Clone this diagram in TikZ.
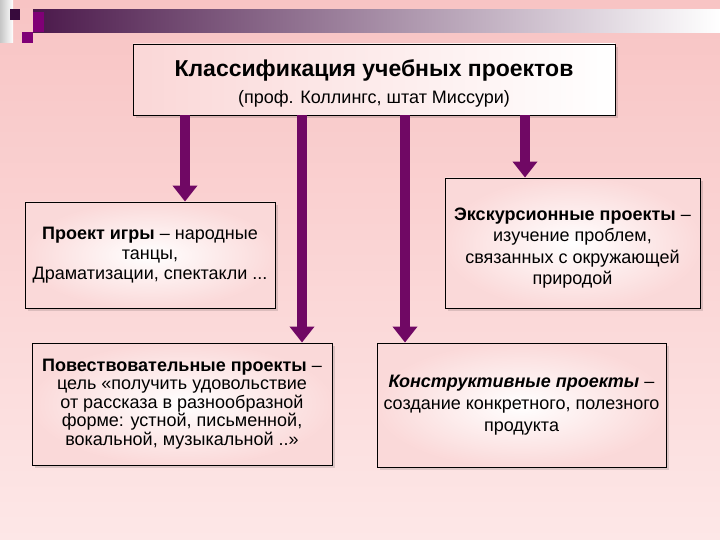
\documentclass[tikz,border=0pt]{standalone}
\usepackage{fontspec}
\setmainfont{Liberation Sans}
\usepackage{xcolor}
\usetikzlibrary{arrows.meta,shadows}

\definecolor{bgtop}{RGB}{248,196,196}
\definecolor{bgbot}{RGB}{253,231,231}
\definecolor{boxpink}{RGB}{249,205,205}
\definecolor{arrowpurple}{RGB}{112,8,100}
\definecolor{barpurple}{RGB}{75,25,75}
\definecolor{sqdark}{RGB}{55,10,60}
\definecolor{sqpurple}{RGB}{128,0,118}

\begin{document}
\begin{tikzpicture}[
        x=1pt, y=-1pt,
        card/.style={draw=black, line width=0.9pt, align=center, inner sep=4pt,
                     inner color=white, outer color=boxpink!75,
                     drop shadow={shadow xshift=3pt, shadow yshift=-3pt, fill=black, opacity=0.12}},
        body/.style={card, font=\fontsize{18}{18.5}\selectfont},
        titlebox/.style={card, left color=boxpink!80, right color=white},
        arrow/.style={-{Triangle[width=24pt,length=16pt]}, line width=10pt, draw=arrowpurple},
    ]
        \useasboundingbox (0,0) rectangle (720,540);
        \shade[top color=bgtop, bottom color=bgbot] (0,0) rectangle (720,540);

        % corner decoration
        \shade[left color=gray!45, right color=white] (0,0) rectangle (13,43);
        \shade[left color=barpurple, middle color=gray!60, right color=white] (33,10) rectangle (720,33);
        \fill[sqdark]   (10,9)  rectangle (20,20);
        \fill[sqpurple] (33,12) rectangle (44,32);
        \fill[sqpurple] (22,32) rectangle (33,43);

        \node[titlebox, minimum width=482pt, minimum height=71pt] (title) at (374,79.5)
            {{\fontsize{23}{26}\selectfont\bfseries\rule{0pt}{25pt}Классификация учебных проектов}\\[8pt]
             {\fontsize{18}{21}\selectfont (проф. Коллингс, штат Миссури)}};

        \node[body, font=\fontsize{18}{20}\selectfont, minimum width=250pt, minimum height=106pt] (games) at (150,255)
            {\textbf{Проект игры} – народные\\танцы,\\Драматизации, спектакли ...};
        \node[body, minimum width=300pt, minimum height=122pt] (story) at (182,404)
            {\textbf{Повествовательные проекты} –\\цель «получить удовольствие\\от рассказа в разнообразной\\форме: устной, письменной,\\вокальной, музыкальной ..»};
        \node[body, font=\fontsize{18}{21.5}\selectfont, minimum width=255pt, minimum height=130pt] (trip) at (572.5,243)
            {\rule{0pt}{23pt}\textbf{Экскурсионные проекты} –\\изучение проблем,\\связанных с окружающей\\природой};
        \node[body, font=\fontsize{18}{22}\selectfont, minimum width=289pt, minimum height=124pt] (build) at (521.5,405)
            {\textbf{\itshape Конструктивные проекты} –\\создание конкретного, полезного\\продукта};

        \coordinate (x1) at (185,0);
        \coordinate (x2) at (302,0);
        \coordinate (x3) at (405,0);
        \coordinate (x4) at (525,0);
        \foreach \i/\target in {1/games, 2/story, 3/build, 4/trip}
            \draw[arrow] (title.south -| x\i) -- (\target.north -| x\i);
    \end{tikzpicture}
\end{document}
